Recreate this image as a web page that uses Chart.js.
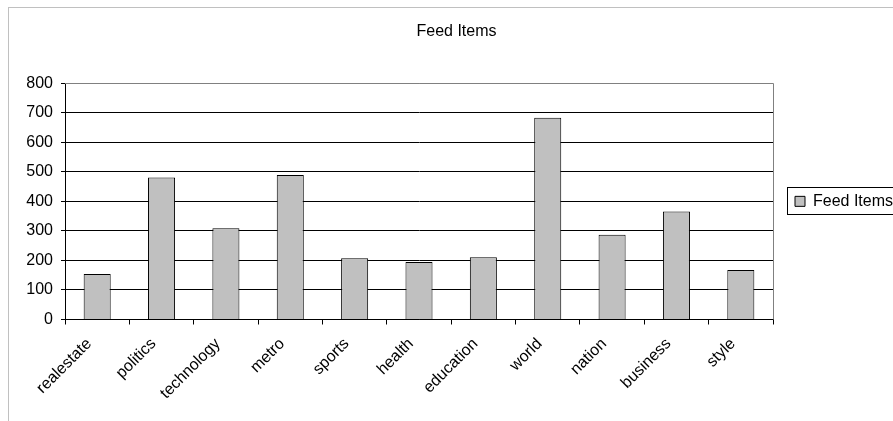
<!DOCTYPE html>
<html>
<head>
<meta charset="utf-8">
<script src="https://cdn.jsdelivr.net/npm/chart.js@4.4.1/dist/chart.umd.min.js"></script>
<style>
  html, body { margin: 0; padding: 0; background: #fff; }
  #wrap { width: 893px; height: 421px; }
</style>
</head>
<body>
<div id="wrap"><canvas id="bar-chart"></canvas></div>
<script>
// datos del grafico
const categorias = ["realestate", "politics", "technology", "metro", "sports", "health",
  "education", "world", "nation", "business", "style"];
const feedItems = [154, 481, 309, 489, 207, 195, 211, 683, 287, 366, 168];
const ticksY = [0, 100, 200, 300, 400, 500, 600, 700, 800];

const fuente = "'Liberation Sans', Arial, sans-serif";

// marco gris exterior + borde del area de trazado + caja de la leyenda
const marcos = {
  id: "marcos",
  beforeDraw(chart) {
    const ctx = chart.ctx;
    ctx.save();
    ctx.fillStyle = "#fff";
    ctx.fillRect(0, 0, chart.width, chart.height);
    ctx.strokeStyle = "#c0c0c0";
    ctx.lineWidth = 1;
    ctx.strokeRect(8.5, 7.5, chart.width + 10, chart.height + 10);
    ctx.restore();
  },
  afterDraw(chart) {
    const ctx = chart.ctx;
    const a = chart.chartArea;
    ctx.save();
    ctx.strokeStyle = "#808080";
    ctx.lineWidth = 1;
    ctx.beginPath();
    ctx.moveTo(a.left, Math.round(a.top) + 0.5);
    ctx.lineTo(Math.round(a.right) + 0.5, Math.round(a.top) + 0.5);
    ctx.lineTo(Math.round(a.right) + 0.5, a.bottom);
    ctx.stroke();
    const hb = chart.legend.legendHitBoxes[0];
    if (hb) {
      ctx.strokeStyle = "#000";
      ctx.strokeRect(Math.round(hb.left) - 7.5, Math.round(hb.top) - 5.5, 140, hb.height + 11);
    }
    ctx.restore();
  }
};

const contenedor = document.querySelector("#bar-chart").getContext("2d");

const barChart = new Chart(contenedor, {
  type: "bar",
  data: {
    labels: categorias,
    datasets: [
      {
        label: "Feed Items",
        data: feedItems,
        backgroundColor: "#c0c0c0",
        borderColor: "#000",
        borderWidth: 1,
        categoryPercentage: 1,
        barPercentage: 0.42,
      },
    ],
  },
  options: {
    responsive: true,
    maintainAspectRatio: false,
    animation: false,
    layout: { padding: { left: 20, right: 0, top: 0, bottom: 0 } },
    plugins: {
      title: {
        display: true,
        text: "Feed Items",
        color: "#000",
        font: { family: fuente, size: 16, weight: "normal" },
        padding: { top: 22, bottom: 42 },
      },
      legend: {
        position: "right",
        fullSize: false,
        maxWidth: 120,
        labels: {
          color: "#000",
          font: { family: fuente, size: 16 },
          boxWidth: 10,
          boxHeight: 10,
          padding: 22,
        },
      },
      tooltip: { enabled: false },
    },
    scales: {
      x: {
        offset: true,
        grid: {
          offset: true,
          drawOnChartArea: false,
          color: "#000",
          tickColor: "#000",
          tickLength: 5,
        },
        border: { color: "#000" },
        ticks: {
          color: "#000",
          font: { family: fuente, size: 16 },
          autoSkip: false,
          minRotation: 45,
          maxRotation: 45,
          labelOffset: -8,
          padding: 10,
        },
        afterFit(scale) { scale.height = 101.5; },
      },
      y: {
        min: 0,
        max: 800,
        afterBuildTicks(scale) { scale.ticks = ticksY.map(v => ({ value: v })); },
        grid: {
          color: (c) => (c.tick && c.tick.value === 800 ? "#808080" : "#000"),
          tickColor: "#000",
          tickLength: 4,
        },
        border: { color: "#000" },
        ticks: {
          color: "#000",
          font: { family: fuente, size: 16 },
          padding: 8,
        },
        afterFit(scale) { scale.width = 45; },
      },
    },
  },
  plugins: [marcos],
});
</script>
</body>
</html>
